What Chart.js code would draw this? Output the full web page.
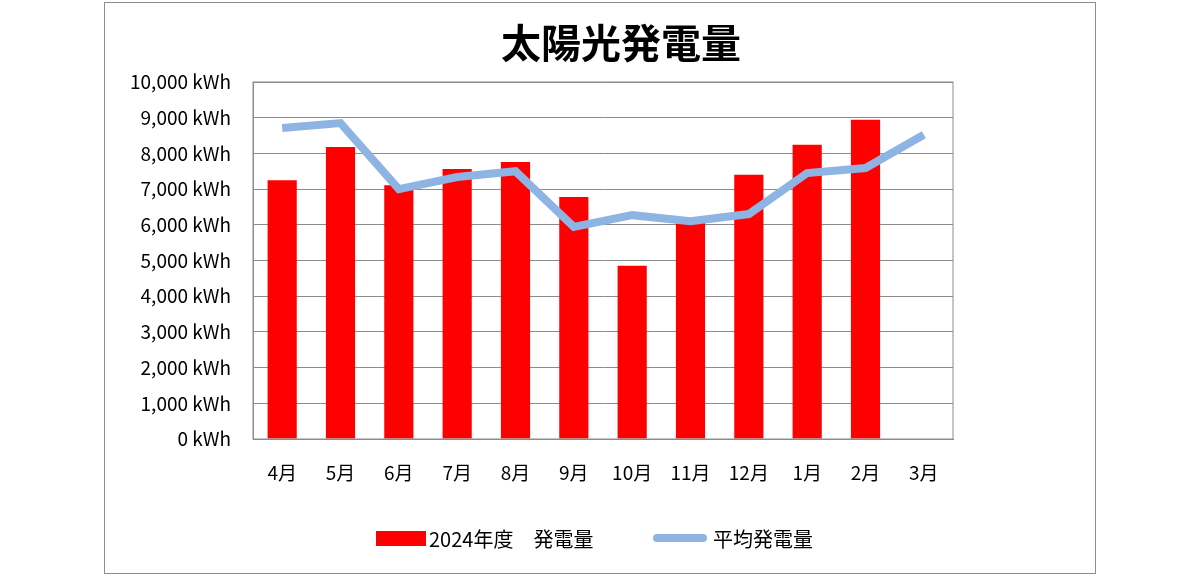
<!DOCTYPE html>
<html><head><meta charset="utf-8">
<script src="https://cdn.jsdelivr.net/npm/chart.js@4"></script>
<style>
html,body{margin:0;padding:0;background:#fff;}
#box{position:absolute;left:104px;top:2px;width:990px;height:570px;border:1px solid #8c8c8c;}
canvas{display:block;}
</style></head><body>
<div id="box"><canvas id="c" width="990" height="570"></canvas></div>
<script>
const categories=['4月','5月','6月','7月','8月','9月','10月','11月','12月','1月','2月','3月'];
const generation2024=[7250,8180,7110,7560,7760,6780,4850,6050,7400,8240,8940,null];
const averageGeneration=[8710,8850,7000,7340,7500,5940,6270,6100,6300,7450,7590,8520];
const seriesNames=['2024年度　発電量','平均発電量'];
const chartTitle='太陽光発電量';
const font="'Noto Sans CJK JP','Noto Sans',sans-serif";
new Chart(document.getElementById('c'),{
 data:{labels:categories,datasets:[
  {type:'bar',label:seriesNames[0],data:generation2024,backgroundColor:'#FF0000',barPercentage:0.5,categoryPercentage:1,order:2},
  {type:'line',label:seriesNames[1],data:averageGeneration,borderColor:'#8EB4E3',backgroundColor:'#8EB4E3',borderWidth:8,pointRadius:0,tension:0,order:1}
 ]},
 options:{responsive:false,animation:false,
  layout:{padding:{left:0,right:142,top:79,bottom:84}},
  plugins:{title:{display:false},legend:{display:false},tooltip:{enabled:false}},
  scales:{
   x:{grid:{display:false},border:{color:'#8c8c8c'},ticks:{font:{family:font,size:19},color:'#000',padding:14},afterFit(s){s.height=50;}},
   y:{min:0,max:10000,afterFit(s){s.width=148;},ticks:{stepSize:1000,font:{family:font,size:19},color:'#000',padding:22,callback:v=>v.toLocaleString('en-US')+' kWh'},
      grid:{color:'#8c8c8c',drawTicks:false},border:{color:'#8c8c8c'}}
  }},
 plugins:[{id:'frame',afterDraw(ch){const a=ch.chartArea,c=ch.ctx;c.save();c.strokeStyle='#8c8c8c';c.lineWidth=1;c.strokeRect(a.left,a.top,a.right-a.left,a.bottom-a.top);
  c.fillStyle='#000';c.textAlign='center';c.textBaseline='middle';c.font="bold 40px "+font;c.fillText(chartTitle,516,40);
  c.font="20px "+font;c.textAlign='left';
  c.fillStyle='#FF0000';c.fillRect(271,528,50,15);c.fillStyle='#000';c.fillText(ch.data.datasets[0].label,324,536);
  c.strokeStyle='#8EB4E3';c.lineWidth=8;c.lineCap='round';c.beginPath();c.moveTo(552,535);c.lineTo(598,535);c.stroke();
  c.fillText(ch.data.datasets[1].label,608,536);
  c.restore();}}]
});
</script></body></html>
